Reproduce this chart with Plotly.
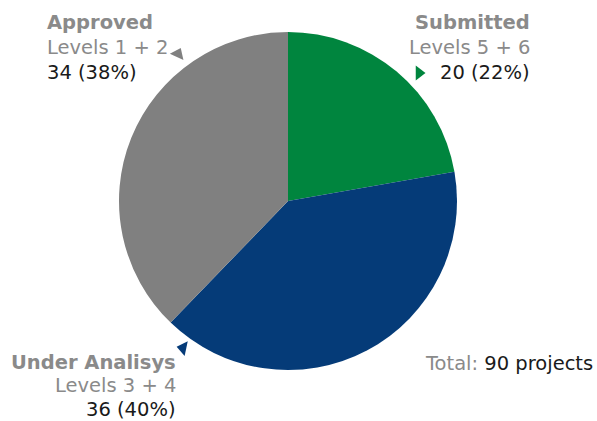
import plotly.graph_objects as go

# Data
categories = ["Submitted", "Under Analisys", "Approved"]
levels = ["Levels 5 + 6", "Levels 3 + 4", "Levels 1 + 2"]
values = [20, 36, 34]
colors = ["#00853E", "#053B78", "#808080"]

W, H = 597, 421
total = sum(values)

fig = go.Figure()

# pie geometry (pixels)
cx, cy, r = 288, 201, 169
fig.add_trace(go.Pie(
    labels=categories, values=values, sort=False, direction="clockwise",
    rotation=0, textinfo="none", hoverinfo="label+value+percent",
    marker=dict(colors=colors, line=dict(color="white", width=0)),
    domain=dict(x=[(cx - r) / W, (cx + r) / W], y=[(H - cy - r) / H, (H - cy + r) / H]),
    showlegend=False,
))

FONT = "Verdana, DejaVu Sans, sans-serif"
GRAY = "#8a8a8a"
BLACK = "#1a1a1a"
FS = 19.5

# label layout: (x px, anchor, first line center y px, line step, triangle)
label_layout = {
    "Submitted": dict(x=531, anchor="right", y0=23, step=24.5, tri=(419, 73, "triangle-right", 0)),
    "Under Analisys": dict(x=177, anchor="right", y0=362, step=23.5, tri=(183, 348, "triangle-left", 12)),
    "Approved": dict(x=46, anchor="left", y0=23, step=24.5, tri=(178, 54, "triangle-up", 25)),
}

def px(x):
    return x / W

def py(y):
    return 1 - y / H

annotations = []
tri_x, tri_y, tri_sym, tri_ang, tri_col = [], [], [], [], []
for cat, lev, val, col in zip(categories, levels, values, colors):
    L = label_layout[cat]
    pct = round(100 * val / total)
    lines = [
        (f"<b>{cat}</b>", GRAY),
        (lev, GRAY),
        (f"{val} ({pct}%)", BLACK),
    ]
    for i, (t, c) in enumerate(lines):
        annotations.append(dict(
            x=px(L["x"]), y=py(L["y0"] + i * L["step"]), xref="paper", yref="paper",
            text=t, showarrow=False, xanchor=L["anchor"], yanchor="middle",
            font=dict(family=FONT, size=FS, color=c), borderpad=0,
        ))
    tx, ty, sym, ang = L["tri"]
    tri_x.append(tx); tri_y.append(ty); tri_sym.append(sym); tri_ang.append(ang); tri_col.append(col)

annotations.append(dict(
    x=px(594), y=py(363), xref="paper", yref="paper",
    text=f"<span style='color:{GRAY}'>Total:</span> {total} projects",
    showarrow=False, xanchor="right", yanchor="middle",
    font=dict(family=FONT, size=FS, color=BLACK), borderpad=0,
))

fig.add_trace(go.Scatter(
    x=tri_x, y=tri_y, mode="markers", xaxis="x", yaxis="y",
    marker=dict(symbol=tri_sym, angle=tri_ang, color=tri_col, size=13, line=dict(width=0)),
    hoverinfo="skip", showlegend=False,
))

fig.update_layout(
    width=W, height=H, margin=dict(l=0, r=0, t=0, b=0),
    paper_bgcolor="white", plot_bgcolor="rgba(0,0,0,0)",
    xaxis=dict(range=[0, W], visible=False, domain=[0, 1], fixedrange=True),
    yaxis=dict(range=[H, 0], visible=False, domain=[0, 1], fixedrange=True),
    annotations=annotations,
)

fig.write_html("out.html")
